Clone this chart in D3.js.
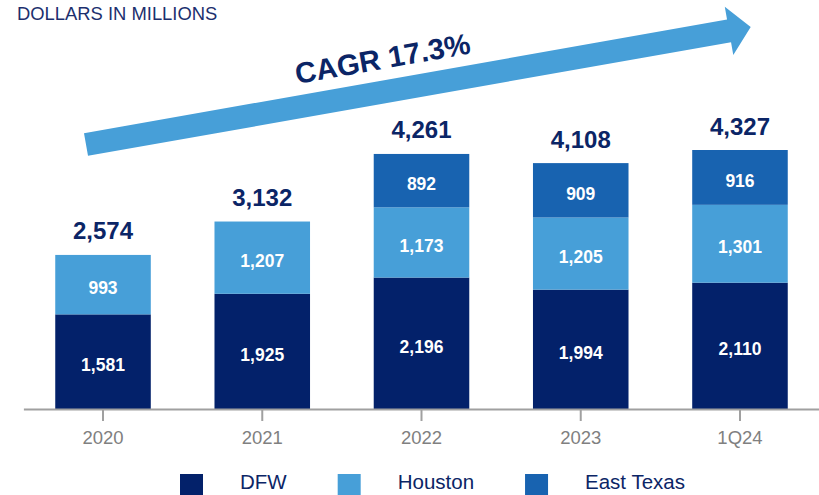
<!DOCTYPE html>
<html>
<head>
<meta charset="utf-8">
<script src="https://cdn.jsdelivr.net/npm/d3@7"></script>
<style>
  body { margin: 0; background: #fff; }
  svg { display: block; font-family: "Liberation Sans", Arial, sans-serif; }
</style>
</head>
<body>
<script>
"use strict";
// data
const periods = ["2020", "2021", "2022", "2023", "1Q24"];
const dfw = [1581, 1925, 2196, 1994, 2110];
const houston = [993, 1207, 1173, 1205, 1301];
const eastTexas = [0, 0, 892, 909, 916];
const totals = [2574, 3132, 4261, 4108, 4327];
const seriesNames = ["DFW", "Houston", "East Texas"];
const cagrLabel = "CAGR 17.3%";
const unitLabel = "DOLLARS IN MILLIONS";

const colors = ["#03216a", "#479fd8", "#1863b0"];
const navy = "#0b2566";

const width = 819;
const height = 495;
const baseline = 409;

const svg = d3.select("body")
    .append("svg")
    .attr("width", width)
    .attr("height", height);

// build rows for the stack
const rows = periods.map((p, i) => ({
    period: p,
    DFW: dfw[i],
    Houston: houston[i],
    "East Texas": eastTexas[i]
}));
const stacked = d3.stack().keys(seriesNames)(rows);

const x = d3.scaleBand()
    .domain(periods)
    .range([23.4, 819.6])
    .paddingInner(0.4)
    .paddingOuter(0.2);

const y = d3.scaleLinear()
    .domain([0, 4327])
    .range([baseline, 150]);

// title
svg.append("text")
    .attr("x", 17)
    .attr("y", 19.5)
    .attr("font-size", 18.4)
    .attr("fill", "#1c2f6e")
    .text(unitLabel);

// growth arrow
const arrowStart = [86, 144.5];
const arrowAngle = -10.02;
const arrowPts = [[0, -11.5], [653, -11.5], [653, -24.4], [675, 0], [653, 24.4], [653, 11.5], [0, 11.5]];
svg.append("polygon")
    .attr("transform", `translate(${arrowStart[0]},${arrowStart[1]}) rotate(${arrowAngle})`)
    .attr("points", arrowPts.map(p => p.join(",")).join(" "))
    .attr("fill", "#479fd8");

svg.append("text")
    .attr("transform", `translate(297,84) rotate(${arrowAngle})`)
    .attr("font-size", 29.3)
    .attr("font-weight", "bold")
    .attr("fill", navy)
    .text(cagrLabel);

// stacked bars
const layers = svg.append("g")
    .selectAll("g")
    .data(stacked)
    .join("g")
    .attr("fill", (d, i) => colors[i]);

layers.selectAll("rect")
    .data(d => d.filter(s => s[1] - s[0] > 0))
    .join("rect")
    .attr("x", d => x(d.data.period))
    .attr("y", d => y(d[1]))
    .attr("width", x.bandwidth())
    .attr("height", d => y(d[0]) - y(d[1]));

// segment labels
layers.selectAll("text")
    .data(d => d.filter(s => s[1] - s[0] > 0))
    .join("text")
    .attr("x", d => x(d.data.period) + x.bandwidth() / 2)
    .attr("y", d => (y(d[0]) + y(d[1])) / 2 + 3)
    .attr("dy", "0.36em")
    .attr("text-anchor", "middle")
    .attr("font-size", 17.5)
    .attr("font-weight", "bold")
    .attr("fill", "#fff")
    .text(d => d3.format(",")(d[1] - d[0]));

// totals
svg.append("g")
    .selectAll("text")
    .data(totals)
    .join("text")
    .attr("x", (d, i) => x(periods[i]) + x.bandwidth() / 2)
    .attr("y", d => y(d) - 15.5)
    .attr("text-anchor", "middle")
    .attr("font-size", 24)
    .attr("font-weight", "bold")
    .attr("fill", navy)
    .text(d => d3.format(",")(d));

// x axis
const xAxis = svg.append("g")
    .attr("transform", `translate(0,${baseline})`)
    .call(d3.axisBottom(x).tickSize(12).tickSizeOuter(0).tickPadding(9.5));
xAxis.select(".domain").attr("stroke", "#a0a0a0").attr("stroke-width", 2);
xAxis.selectAll(".tick line").attr("stroke", "#a0a0a0").attr("stroke-width", 2);
xAxis.selectAll(".tick text")
    .attr("font-size", 18.5)
    .attr("font-family", "'Liberation Sans', Arial, sans-serif")
    .attr("fill", "#808080");

// legend
const legend = svg.append("g");
let lx = 180;
seriesNames.forEach((name, i) => {
    legend.append("rect")
        .attr("x", lx)
        .attr("y", 474)
        .attr("width", 23)
        .attr("height", 23)
        .attr("fill", colors[i]);
    const t = legend.append("text")
        .attr("x", lx + 60)
        .attr("y", 489)
        .attr("font-size", 20.5)
        .attr("fill", navy)
        .text(name);
    lx += 60 + t.node().getComputedTextLength() + 51;
});
</script>
</body>
</html>
